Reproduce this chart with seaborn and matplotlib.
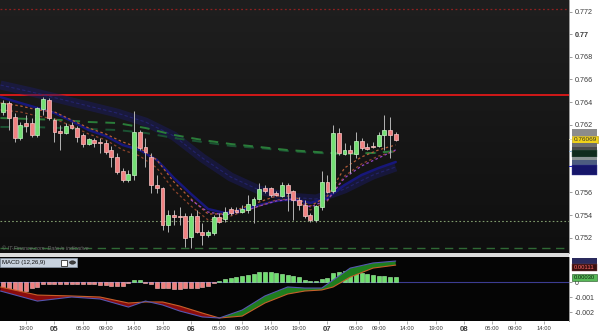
import numpy as np
import matplotlib
matplotlib.use("Agg")
import matplotlib.pyplot as plt
import seaborn as sns
from matplotlib.patches import Rectangle, Circle
from matplotlib.colors import LinearSegmentedColormap

# ---------------- data (hourly candles, 04 15:00 -> 07 12:00) ----------------
opens = [0.76313, 0.76392, 0.76269, 0.76083, 0.76215, 0.76215, 0.76109, 0.76339, 0.76419, 0.76242,
         0.76145, 0.76127, 0.76198, 0.76171, 0.76109, 0.76030, 0.76065, 0.76047, 0.76038, 0.75977,
         0.75915, 0.75790, 0.75711, 0.75755, 0.76136, 0.76003, 0.75915, 0.75667, 0.75640, 0.75312,
         0.75401, 0.75392, 0.75392, 0.75206, 0.75392, 0.75250, 0.75223, 0.75241, 0.75383, 0.75365,
         0.75454, 0.75445, 0.75427, 0.75445, 0.75489, 0.75543, 0.75640, 0.75640, 0.75596, 0.75569,
         0.75667, 0.75613, 0.75534, 0.75489, 0.75401, 0.75357, 0.75471, 0.75693, 0.75613, 0.76127,
         0.75941, 0.75977, 0.75941, 0.76056, 0.76003, 0.76012, 0.76012, 0.76109, 0.76154, 0.76118]
highs = [0.76419, 0.76410, 0.76304, 0.76224, 0.76286, 0.76260, 0.76357, 0.76445, 0.76437, 0.76260,
         0.76198, 0.76215, 0.76224, 0.76189, 0.76127, 0.76083, 0.76083, 0.76083, 0.76065, 0.76012,
         0.75950, 0.75817, 0.75799, 0.76322, 0.76154, 0.76083, 0.75950, 0.75755, 0.75649, 0.75445,
         0.75445, 0.75471, 0.75418, 0.75418, 0.75445, 0.75330, 0.75268, 0.75401, 0.75418, 0.75471,
         0.75471, 0.75471, 0.75489, 0.75578, 0.75560, 0.75684, 0.75667, 0.75649, 0.75613, 0.75693,
         0.75684, 0.75622, 0.75560, 0.75534, 0.75418, 0.75489, 0.75790, 0.75755, 0.76198, 0.76171,
         0.76038, 0.76021, 0.76136, 0.76083, 0.76038, 0.76047, 0.76136, 0.76286, 0.76269, 0.76136]
lows = [0.76286, 0.76154, 0.76047, 0.76065, 0.76136, 0.76092, 0.76092, 0.76286, 0.76242, 0.76047,
        0.75977, 0.76118, 0.76162, 0.76047, 0.76003, 0.76021, 0.76003, 0.75950, 0.75941, 0.75826,
        0.75764, 0.75693, 0.75693, 0.75711, 0.75977, 0.75826, 0.75596, 0.75596, 0.75268, 0.75250,
        0.75312, 0.75312, 0.75117, 0.75108, 0.75241, 0.75135, 0.75206, 0.75223, 0.75330, 0.75339,
        0.75401, 0.75418, 0.75418, 0.75418, 0.75330, 0.75534, 0.75596, 0.75560, 0.75569, 0.75560,
        0.75436, 0.75357, 0.75445, 0.75374, 0.75339, 0.75339, 0.75445, 0.75596, 0.75596, 0.75932,
        0.75932, 0.75773, 0.75906, 0.75977, 0.75977, 0.75994, 0.76003, 0.75977, 0.75906, 0.76056]
closes = [0.76392, 0.76260, 0.76083, 0.76198, 0.76189, 0.76109, 0.76348, 0.76428, 0.76260, 0.76136,
          0.76127, 0.76189, 0.76171, 0.76092, 0.76030, 0.76074, 0.76038, 0.76034, 0.75959, 0.75915,
          0.75781, 0.75711, 0.75764, 0.76136, 0.75994, 0.75959, 0.75667, 0.75640, 0.75312, 0.75401,
          0.75383, 0.75387, 0.75197, 0.75392, 0.75250, 0.75223, 0.75250, 0.75383, 0.75339, 0.75427,
          0.75418, 0.75427, 0.75454, 0.75498, 0.75543, 0.75631, 0.75613, 0.75578, 0.75578, 0.75667,
          0.75596, 0.75534, 0.75489, 0.75392, 0.75357, 0.75480, 0.75693, 0.75605, 0.76127, 0.75950,
          0.75977, 0.75950, 0.76056, 0.75994, 0.75985, 0.75999, 0.76109, 0.76154, 0.76109, 0.76069]

# moving-average ribbons
slow_idx = [-0.5, 5, 10, 15, 20, 25, 30, 35, 40, 45, 50, 55, 60, 65, 69]
blue_slow = [0.76551, 0.76489, 0.76427, 0.76365, 0.76303, 0.76224, 0.76100, 0.75905, 0.75737,
             0.75622, 0.75560, 0.75542, 0.75631, 0.75755, 0.75826]
green_a = [0.76259, 0.76250, 0.76242, 0.76224, 0.76215, 0.76171, 0.76109, 0.76065, 0.76029,
           0.76003, 0.75976, 0.75959, 0.75941, 0.75950, 0.75967]
green_b = [0.76180, 0.76180, 0.76171, 0.76162, 0.76153, 0.76127, 0.76082, 0.76047, 0.76012,
           0.75994, 0.75967, 0.75950, 0.75941, 0.75950, 0.75959]

fast_idx = [-0.5, 3, 6, 9, 12, 15, 18, 21, 24, 27, 30, 33, 36, 39, 42, 45, 48, 51, 54, 57, 60, 63, 66, 69]
navy_fast = [0.76445, 0.76392, 0.76348, 0.76304, 0.76233, 0.76153, 0.76100, 0.76020, 0.75976, 0.75888,
             0.75728, 0.75587, 0.75454, 0.75418, 0.75445, 0.75489, 0.75525, 0.75542, 0.75507, 0.75551,
             0.75666, 0.75755, 0.75817, 0.75870]
orange_a = [0.76392, 0.76366, 0.76331, 0.76313, 0.76242, 0.76171, 0.76118, 0.76047, 0.75994, 0.75888,
            0.75693, 0.75543, 0.75410, 0.75410, 0.75463, 0.75516, 0.75569, 0.75569, 0.75480, 0.75569,
            0.75817, 0.75915, 0.75977, 0.76021]
orange_b = [0.76331, 0.76313, 0.76277, 0.76251, 0.76189, 0.76118, 0.76065, 0.75977, 0.75923, 0.75817,
            0.75622, 0.75480, 0.75357, 0.75374, 0.75427, 0.75480, 0.75534, 0.75543, 0.75445, 0.75525,
            0.75746, 0.75853, 0.75923, 0.75968]
purple_idx = [33, 36, 39, 42, 45, 48, 51, 54, 57, 60, 63, 66, 69]
purple = [0.75534, 0.75427, 0.75401, 0.75427, 0.75480, 0.75525, 0.75543, 0.75472, 0.75534,
          0.75729, 0.75835, 0.75906, 0.75977]

# horizontal levels
level_red_dotted = 0.77224
level_red = 0.76465
level_green_dotted = 0.75352
level_green_dashed = 0.75109
last_price = "0.76069"

# MACD (12,26,9)
macd_hist = [-0.0004, -0.00051, -0.00058, -0.00062, -0.00056, -0.0004, -0.00029,
             -0.00013, -0.0001, -0.00011, -0.00012, -0.0001, -0.00011, -0.00012, -0.00012,
             -0.00013, -0.00014, -0.00016, -0.00018,
             -0.00024, -0.00024, -0.00024, -0.00004, 0.00015, 0.00015, -0.00005,
             -0.00013, -0.00035, -0.0004, -0.0004, -0.00043, -0.00045, -0.0004, -0.0004, -0.00035,
             -0.0003, -0.00023, -0.00007,
             0.00009, 0.00022, 0.00031, 0.00035, 0.00042, 0.00049, 0.00055, 0.00067, 0.00067, 0.00067,
             0.00064, 0.00057, 0.00049, 0.00042, 0.00033, 0.00017, 0.00011, 0.00011, 0.00022, 0.00027,
             0.0006, 0.00071, 0.00075, 0.00075, 0.00071, 0.00064, 0.00055, 0.00049, 0.00044, 0.00044,
             0.00037, 0.00033]
macd_idx = [-0.5, 6, 12, 17, 22, 25, 28, 31, 35, 38, 42, 46, 50, 53, 56, 58, 61, 65, 69]
macd_line = [-0.00058, -0.00125, -0.00098, -0.00111, -0.00165, -0.00125, -0.00151, -0.00191, -0.00231,
             -0.00238, -0.00185, -0.00091, -0.00031, -0.00038, -0.00038, 0.00015, 0.00095, 0.00129, 0.00142]
signal_line = [-0.00031, -0.00085, -0.00091, -0.00098, -0.00138, -0.00131, -0.00131, -0.00158, -0.00205,
               -0.00238, -0.00225, -0.00138, -0.00078, -0.00058, -0.00051, -0.00031, 0.00035, 0.00095, 0.00115]

# axis labels
price_ticks = [0.752, 0.754, 0.756, 0.762, 0.764, 0.766, 0.768, 0.77, 0.772]
price_labels = ["0.752", "0.754", "0.756", "0.762", "0.764", "0.766", "0.768", "0.77", "0.772"]
time_ticks = [4, 9, 14, 18, 23, 28, 33, 38, 42, 47, 52, 57, 62, 66, 71, 76, 81, 86, 90, 95]
time_labels = ["19:00", "05", "05:00", "09:00", "14:00", "19:00", "06", "05:00", "09:00", "14:00",
               "19:00", "07", "05:00", "09:00", "14:00", "19:00", "08", "05:00", "09:00", "14:00"]
macd_ticks = [0, -0.001, -0.002]
macd_labels = ["0", "-0.001", "-0.002"]

# ---------------- style ----------------
sns.set_style("dark")
plt.rcParams["font.family"] = ["Liberation Sans", "DejaVu Sans"]

W, H = 602, 334
fig = plt.figure(figsize=(W / 100, H / 100), dpi=100, facecolor="white")


def fx(x):
    return x / W


def fy(y):
    return 1 - y / H


def box(x0, y0, x1, y1, fc, ec="none", lw=0.5, z=5):
    fig.add_artist(Rectangle((fx(x0), fy(y1)), fx(x1) - fx(x0), fy(y0) - fy(y1),
                             transform=fig.transFigure, facecolor=fc, edgecolor=ec,
                             linewidth=lw, zorder=z))


ax = fig.add_axes([0, fy(253), fx(569), 253 / H])
ax2 = fig.add_axes([0, fy(321), fx(569), 64 / H], sharex=ax)

xlim = (-0.58, 99.47)
ylim = (0.750646, 0.773035)

# gradient background for price panel
bg = LinearSegmentedColormap.from_list("bg", ["#1f1f1f", "#0f0f0f"])
ax.imshow(np.linspace(0, 1, 256).reshape(-1, 1), cmap=bg, aspect="auto",
          extent=(0, 1, 0, 1), transform=ax.transAxes, zorder=-10)
ax2.set_facecolor("#050505")
for a in (ax, ax2):
    a.grid(False)
    for s in ("top", "left", "bottom"):
        a.spines[s].set_visible(False)
    a.spines["right"].set_color("#8a8a8a")
    a.spines["right"].set_linewidth(0.6)

# horizontal levels
ax.axhline(level_red_dotted, color="#8e2020", lw=0.9, ls=(0, (1.5, 2)), zorder=1)
ax.axhline(level_red, color="#e01818", lw=1.3, zorder=1)
ax.axhline(level_green_dotted, color="#7f9a6c", lw=0.8, ls=(0, (1.5, 2)), zorder=1)
ax.axhline(level_green_dashed, color="#2f6a35", lw=1.0, ls=(0, (6, 4)), zorder=1)

# ribbons
sns.lineplot(x=slow_idx, y=blue_slow, ax=ax, color="#1c1c6a", linewidth=6.5, alpha=0.45,
             legend=False, zorder=1.5, solid_capstyle="butt")
sns.lineplot(x=slow_idx, y=blue_slow, ax=ax, color="#2a2a8a", linewidth=0.8, alpha=0.6,
             linestyle=(0, (3, 2)), legend=False, zorder=1.55)
sns.lineplot(x=slow_idx, y=green_b, ax=ax, color="#1b5232", linewidth=1.4,
             linestyle=(0, (5, 4)), legend=False, zorder=1.6)
sns.lineplot(x=slow_idx, y=green_a, ax=ax, color="#2a7c39", linewidth=1.4,
             linestyle=(0, (5, 4)), legend=False, zorder=1.7)
sns.lineplot(x=fast_idx, y=navy_fast, ax=ax, color="#17177a", linewidth=1.8,
             legend=False, zorder=1.8)
sns.lineplot(x=fast_idx, y=orange_a, ax=ax, color="#b45c38", linewidth=0.9,
             linestyle=(0, (2, 2)), legend=False, zorder=1.9)
sns.lineplot(x=fast_idx, y=orange_b, ax=ax, color="#8c442c", linewidth=0.9,
             linestyle=(0, (2, 2)), legend=False, zorder=1.9)
sns.lineplot(x=purple_idx, y=purple, ax=ax, color="#9446c0", linewidth=0.9,
             linestyle=(0, (2, 2)), legend=False, zorder=1.95)

# candles
o, h, l, c = (np.array(v) for v in (opens, highs, lows, closes))
idx = np.arange(len(o))
up = c >= o
ax.vlines(idx, l, h, color="#b4b4b4", lw=0.7, zorder=3)
bot = np.minimum(o, c)
hgt = np.maximum(np.abs(c - o), 0.00004)
ax.bar(idx[up], hgt[up], bottom=bot[up], width=0.68, color="#74df74",
       edgecolor="#c4f7c4", linewidth=0.5, zorder=4)
ax.bar(idx[~up], hgt[~up], bottom=bot[~up], width=0.68, color="#f08282",
       edgecolor="#fbc6c6", linewidth=0.5, zorder=4)

ax.set_xlim(*xlim)
ax.set_ylim(*ylim)
ax.yaxis.tick_right()
ax.set_yticks(price_ticks, labels=price_labels)
ax.tick_params(axis="y", length=2.5, width=0.5, color="#777777", pad=1.5,
               labelsize=5.2, labelcolor="#3a3a3a")
for t in ax.get_yticklabels():
    if t.get_text() == "0.77":
        t.set_fontweight("bold")
ax.tick_params(axis="x", bottom=False, labelbottom=False)
ax.set_xlabel("")
ax.set_ylabel("")

# ---------------- MACD ----------------
hist = np.array(macd_hist)
pos = hist >= 0
ax2.bar(idx[pos], hist[pos], width=0.7, color="#6ee06e", edgecolor="#a8f2a8", linewidth=0.4, zorder=2)
ax2.bar(idx[~pos], hist[~pos], width=0.7, color="#f07e7e", edgecolor="#f8c0c0", linewidth=0.4, zorder=2)
ax2.axhline(0, color="#3c3c92", lw=0.8, zorder=1)
m = np.array(macd_line)
s = np.array(signal_line)
ax2.fill_between(macd_idx, m, s, where=m <= s, interpolate=True, color="#8a0c0c", lw=0, zorder=3)
ax2.fill_between(macd_idx, m, s, where=m >= s, interpolate=True, color="#1e7d1e", lw=0, zorder=3)
sns.lineplot(x=macd_idx, y=signal_line, ax=ax2, color="#c6602a", linewidth=0.8, legend=False, zorder=4)
sns.lineplot(x=macd_idx, y=macd_line, ax=ax2, color="#5656b0", linewidth=0.8, legend=False, zorder=4)
ax2.set_ylim(-0.00258, 0.00169)
ax2.set_xlim(*xlim)
ax2.yaxis.tick_right()
ax2.set_yticks(macd_ticks, labels=macd_labels)
ax2.tick_params(axis="y", length=2.5, width=0.5, color="#777777", pad=1.5,
                labelsize=5.0, labelcolor="#3a3a3a")
ax2.set_xticks(time_ticks, labels=time_labels)
ax2.tick_params(axis="x", length=2, width=0.5, color="#888888", pad=1.5,
                labelsize=4.2, labelcolor="#3a3a3a", bottom=True)
for t in ax2.get_xticklabels():
    if len(t.get_text()) == 2:
        t.set_fontweight("bold")
        t.set_fontsize(5.6)
ax2.set_xlabel("")
ax2.set_ylabel("")

# ---------------- decorations ----------------
box(0, 253, 569, 257, "#dcdcdc", z=6)
fig.text(fx(2), fy(249), "© IT-Finance.com. Data is indicative", fontsize=3.9,
         color="#6e6e6e", style="italic", va="center", ha="left", zorder=7)

# MACD header
box(0, 258, 77, 267, "#c8d2de", ec="#8c9aaa", lw=0.5, z=6)
fig.text(fx(2), fy(262.6), "MACD (12,26,9)", fontsize=4.3, color="#101010",
         va="center", ha="left", zorder=7)
box(61, 259.5, 67, 265.5, "#ffffff", ec="#303030", lw=0.6, z=7)
fig.add_artist(Circle((fx(72.5), fy(262.5)), 3.0 / W, transform=fig.transFigure,
                      facecolor="#404040", edgecolor="#202020", lw=0.4, zorder=7))

# price value boxes on the right scale
box(572, 129, 597, 135.5, "#8c8c8c", z=6)
box(572, 135.5, 598, 142.5, "#f0d21a", ec="#b09000", lw=0.4, z=6)
fig.text(fx(585), fy(139.2), last_price, fontsize=4.6, color="#303030",
         ha="center", va="center", zorder=7)
box(572, 142.5, 597, 147, "#6e6e6e", z=6)
box(572, 147, 597, 150, "#4a4a4a", z=6)
box(572, 150, 597, 157, "#0f2c1d", ec="#406050", lw=0.3, z=6)
box(572, 157, 597, 160, "#8a9494", z=6)
box(572, 160, 597, 164.5, "#4c5c80", z=6)
box(572, 164.5, 597, 175, "#16166a", ec="#3a3a9a", lw=0.3, z=6)
box(569, 138.5, 572, 139.5, "#e8e8c0", z=6)
box(569, 150.5, 572, 151.5, "#8ab0d0", z=6)
box(569, 165.5, 572, 167, "#2b2bd0", z=6)

# MACD value boxes
box(572, 258, 597, 264, "#2a2a5c", z=6)
box(572, 264, 597, 271, "#3a1010", ec="#7a4040", lw=0.3, z=6)
fig.text(fx(584.5), fy(267.6), "0.00111", fontsize=4.2, color="#ff6a6a",
         ha="center", va="center", zorder=7)
box(572, 274, 597, 281, "#58b858", ec="#205020", lw=0.4, z=6)
fig.text(fx(584.5), fy(277.6), "0.00030", fontsize=4.2, color="#0c240c",
         ha="center", va="center", zorder=7)

fig.savefig("out.png", dpi=100, facecolor="white")
